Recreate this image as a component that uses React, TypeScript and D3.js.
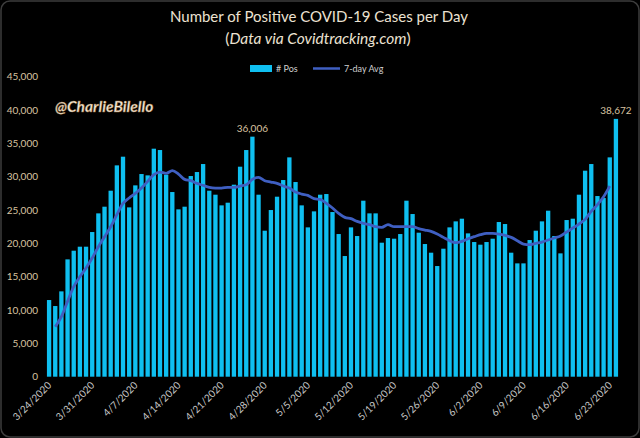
import React from "react";
import * as d3 from "d3";

const startDate = new Date(2020, 2, 24);
const posCases: number[] = [
  11500, 10600, 12800, 17600, 18900, 19500, 19500, 21700, 24500, 25500,
  27900, 31700, 33000, 25400, 28700, 30400, 30200, 34200, 34000, 30300,
  27700, 25100, 25500, 30100, 30700, 31900, 27900, 27300, 25700, 26100,
  28800, 31500, 34000, 36006, 27300, 21900, 25000, 27000, 29500, 32900,
  29200, 25700, 22400, 24800, 27300, 27400, 24700, 21400, 18100, 22400,
  21100, 26400, 24500, 24500, 20100, 20800, 20700, 21400, 26400, 24400,
  21600, 19900, 18600, 16600, 19200, 22400, 23300, 23700, 21500, 20200,
  19800, 20200, 20700, 23200, 22900, 18600, 17000, 17000, 20500, 21900,
  23300, 24900, 21100, 18500, 23500, 23700, 27300, 30900, 31900, 27100,
  26800, 32900, 38672,
];
const avg7: (number | null)[] = [
  null, 7500, 9000, 11300, 13500, 15000, 16300, 17800, 19500, 21000,
  22500, 24300, 26000, 26800, 27500, 28300, 29300, 30300, 30700, 30500,
  30900, 30400, 29600, 29400, 29000, 28700, 28400, 28300, 28300, 28400,
  28400, 28600, 28800, 29600, 29900, 29400, 29200, 29000, 28600, 28300,
  27700, 27400, 27200, 26700, 26600, 26000, 25300, 24500, 23900, 23700,
  23300, 23000, 22800, 22500, 22400, 22800, 22500, 22500, 22500, 22500,
  22200, 22000, 21800, 21400, 20900, 20400, 20100, 20300, 20700, 21000,
  21300, 21500, 21500, 21400, 21200, 20900, 20400, 19900, 19800, 20000,
  20200, 20500, 20800, 21100, 21700, 22300, 22900, 23600, 24800, 25800,
  27000, 28600, null,
];
const dates: Date[] = posCases.map((_, i) => d3.timeDay.offset(startDate, i));
const yTicks: number[] = [0, 5000, 10000, 15000, 20000, 25000, 30000, 35000, 40000, 45000];
const annotated: number[] = [33, 92];

const W = 640;
const H = 438;
const FONT = "Lato, 'Open Sans', sans-serif";

export default function App() {
  const fmtDate = d3.timeFormat("%-m/%-d/%Y");
  const x = d3
    .scaleBand<string>()
    .domain(dates.map((d) => fmtDate(d)))
    .range([46, 619])
    .paddingInner(0.3)
    .paddingOuter(0.15);
  const y = d3.scaleLinear().domain([0, 45000]).range([376.7, 76.7]);
  const fmtNum = d3.format(",");
  const cx = (i: number) => (x(fmtDate(dates[i])) as number) + x.bandwidth() / 2;

  const line = d3
    .line<number | null>()
    .defined((d) => d !== null)
    .x((_, i) => cx(i))
    .y((d) => y(d as number))
    .curve(d3.curveMonotoneX);

  const tickDates = dates.filter((_, i) => i % 7 === 0);

  return (
    <svg
      width={W}
      height={H}
      style={{ position: "absolute", left: 0, top: 0, background: "#000" }}
      fontFamily={FONT}
    >
      <rect x={0} y={0} width={W} height={H} fill="#000" />
      <rect x={1} y={1} width={W - 2} height={H - 2} rx={9} fill="#000" stroke="#3c3c3c" strokeWidth={1.5} />

      <text x={319} y={22} textAnchor="middle" fill="#ece2d2" fontSize={15}>
        Number of Positive COVID-19 Cases per Day
      </text>
      <text x={318} y={44} textAnchor="middle" fill="#ece2d2" fontSize={15.5}>
        (<tspan fontStyle="italic">Data via Covidtracking.com</tspan>)
      </text>

      {/* legend */}
      <rect x={250} y={65} width={22} height={7} fill="#0fbff0" />
      <text x={276} y={71.5} fill="#cfcfcf" fontSize={9}>
        # Pos
      </text>
      <line x1={313} x2={340} y1={68.5} y2={68.5} stroke="#3f5fc2" strokeWidth={2.5} />
      <text x={344} y={71.5} fill="#cfcfcf" fontSize={9}>
        7-day Avg
      </text>

      {/* y axis labels */}
      {yTicks.map((t) => (
        <text key={t} x={38} y={y(t) + 3.5} textAnchor="end" fill="#d9c3a0" fontSize={10}>
          {fmtNum(t)}
        </text>
      ))}

      <text
        x={55}
        y={112}
        fill="#f3ebdd"
        fontSize={15.5}
        fontWeight="bold"
        fontStyle="italic"
        stroke="#a0703a"
        strokeWidth={0.4}
      >
        @CharlieBilello
      </text>

      {/* bars */}
      {posCases.map((v, i) => (
        <rect
          key={i}
          x={x(fmtDate(dates[i]))}
          y={y(v)}
          width={x.bandwidth()}
          height={y(0) - y(v)}
          fill="#0fbff0"
        />
      ))}

      <path d={line(avg7) ?? ""} fill="none" stroke="#3f5fc2" strokeWidth={2.8} strokeLinejoin="round" />

      {annotated.map((i) => (
        <text key={i} x={cx(i)} y={y(posCases[i]) - 5} textAnchor="middle" fill="#d9c3a0" fontSize={10}>
          {fmtNum(posCases[i])}
        </text>
      ))}

      {/* x axis labels */}
      {tickDates.map((d) => {
        const px = (x(fmtDate(d)) as number) + x.bandwidth() / 2 + 3;
        const py = 386;
        return (
          <text
            key={fmtDate(d)}
            x={px}
            y={py}
            textAnchor="end"
            fill="#c8c8c8"
            fontSize={10}
            transform={`rotate(-45, ${px}, ${py})`}
          >
            {fmtDate(d)}
          </text>
        );
      })}
    </svg>
  );
}
